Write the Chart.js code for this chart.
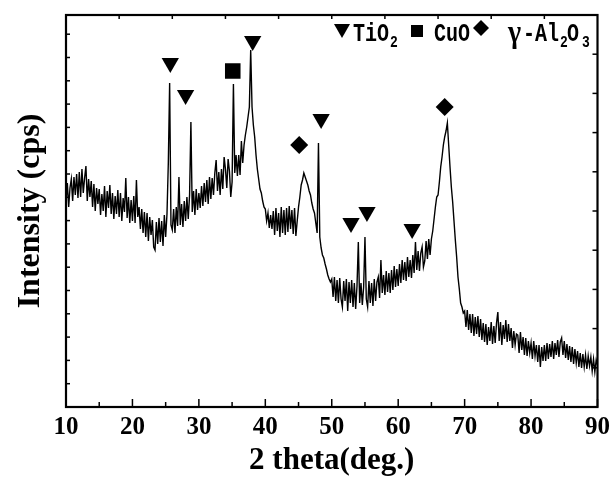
<!DOCTYPE html>
<html>
<head>
<meta charset="utf-8">
<script src="https://cdn.jsdelivr.net/npm/chart.js@4/dist/chart.umd.min.js"></script>
<style>
html, body { margin: 0; padding: 0; background: #fff; }
#wrap { width: 616px; height: 486px; }
</style>
</head>
<body>
<div id="wrap"><canvas id="xrd"></canvas></div>
<script>
// scan grid of the diffractometer
const scanStart = 10, scanStep = 0.2;

// intensity, one row per degree (5 steps of 0.2 deg)
const intensity = [
  205, 224, 200, 219, 228,   // 10
  206, 230, 212, 233, 209,   // 11
  235, 210, 238, 214, 229,   // 12
  241, 206, 228, 210, 226,   // 13
  200, 223, 196, 219, 203,   // 14
  218, 192, 213, 196, 221,   // 15
  190, 216, 199, 222, 193,   // 16
  214, 188, 211, 193, 217,   // 17
  190, 214, 186, 209, 195,   // 18
  229, 189, 210, 184, 207,   // 19
  186, 211, 184, 227, 190,   // 20
  200, 178, 198, 174, 195,   // 21
  170, 194, 166, 190, 172,   // 22
  187, 160, 157, 185, 163,   // 23
  189, 165, 186, 161, 192,   // 24
  170, 193, 244, 324, 182,   // 25
  177, 198, 174, 200, 181,   // 26
  230, 182, 203, 180, 206,   // 27
  186, 210, 188, 212, 285,   // 28
  195, 216, 192, 218, 197,   // 29
  214, 199, 221, 201, 224,   // 30
  205, 227, 203, 230, 208,   // 31
  229, 212, 234, 247, 216,   // 32
  235, 212, 238, 218, 250,   // 33
  238, 219, 248, 236, 210,   // 34
  225, 323, 234, 252, 231,   // 35
  252, 232, 266, 244, 262,   // 36
  272, 280, 290, 300, 357,   // 37
  300, 282, 270, 252, 238,   // 38
  228, 218, 214, 206, 200,   // 39
  198, 186, 194, 179, 192,   // 40
  178, 196, 172, 199, 176,   // 41
  194, 170, 200, 174, 197,   // 42
  172, 199, 175, 201, 178,   // 43
  197, 173, 199, 171, 186,   // 44
  200, 210, 222, 227, 234,   // 45
  230, 226, 222, 216, 212,   // 46
  204, 198, 194, 184, 174,   // 47
  264, 170, 159, 152, 149,   // 48
  143, 138, 132, 128, 125,   // 49
  128, 110, 130, 106, 127,   // 50
  104, 129, 108, 100, 126,   // 51
  106, 128, 96, 125, 104,    // 52
  127, 100, 124, 98, 121,    // 53
  165, 104, 124, 102, 120,   // 54
  170, 108, 100, 126, 104,   // 55
  124, 101, 128, 106, 125,   // 56
  130, 109, 147, 114, 132,   // 57
  112, 136, 115, 134, 114,   // 58
  137, 117, 141, 120, 138,   // 59
  121, 143, 124, 147, 127,   // 60
  145, 126, 150, 130, 147,   // 61
  129, 152, 134, 165, 137,   // 62
  156, 136, 154, 160, 140,   // 63
  146, 166, 148, 168, 152,   // 64
  168, 176, 188, 200, 210,   // 65
  212, 225, 240, 250, 262,   // 66
  270, 276, 284, 262, 240,   // 67
  220, 205, 186, 167, 150,   // 68
  130, 118, 104, 100, 94,    // 69
  96, 80, 97, 77, 93,        // 70
  74, 93, 71, 90, 73,        // 71
  91, 70, 88, 67, 84,        // 72
  65, 83, 62, 80, 66,        // 73
  85, 63, 81, 64, 84,        // 74
  95, 66, 85, 62, 82,        // 75
  68, 87, 65, 83, 66,        // 76
  79, 59, 76, 62, 73,        // 77
  72, 54, 75, 57, 70,        // 78
  52, 69, 51, 66, 54,        // 79
  64, 48, 66, 51, 62,        // 80
  45, 62, 40, 60, 46,        // 81
  62, 46, 64, 48, 63,        // 82
  50, 66, 48, 64, 52,        // 83
  67, 50, 65, 69, 52,        // 84
  66, 49, 63, 47, 61,        // 85
  45, 60, 43, 58, 44,        // 86
  56, 40, 54, 39, 53,        // 87
  40, 52, 38, 51, 41,        // 88
  50, 36, 48, 35, 47,        // 89
  42                         // 90
];

// phase markers above the peaks
const markerAngles  = [25.7, 28.0, 35.1, 38.1, 45.1, 48.4, 52.9, 55.3, 62.1, 67.0];
const markerHeights = [344, 312, 336, 366, 262, 288, 184, 195, 178, 300];
const markerPhases  = ['TiO2', 'TiO2', 'CuO', 'TiO2', 'Al2O3', 'TiO2', 'TiO2', 'TiO2', 'TiO2', 'Al2O3'];

// axis ticks
const xMajorTicks = [10, 20, 30, 40, 50, 60, 70, 80, 90];
const xMinorTicks = [15, 25, 35, 45, 55, 65, 75, 85];
const topTicks = [18, 26, 34, 42, 50, 58, 66, 74, 82];
const leftTicks = [23.3, 46.6, 69.9, 93.2, 116.5, 139.8, 163.1, 186.4, 209.7, 233, 256.3, 279.6, 302.9, 326.2, 349.5, 372.8];
const rightTicks = [39.2, 78.4, 117.6, 156.8, 196, 235.2, 274.4, 313.6, 352.8];

const scan = intensity.map((v, i) => ({ x: +(scanStart + i * scanStep).toFixed(1), y: v }));
const markers = markerAngles.map((a, i) => ({ x: a, y: markerHeights[i] }));
const styleOf = { TiO2: 'triangle', CuO: 'rect', Al2O3: 'rectRot' };
const radiusOf = { TiO2: 10, CuO: 11, Al2O3: 9 };

const frameTicks = {
  id: 'frameTicks',
  afterDraw(chart) {
    const { ctx, chartArea: a, scales: { x, y } } = chart;
    ctx.save();
    ctx.strokeStyle = '#000';
    ctx.lineWidth = 1.5;
    const seg = (x1, y1, x2, y2) => { ctx.beginPath(); ctx.moveTo(x1, y1); ctx.lineTo(x2, y2); ctx.stroke(); };
    xMajorTicks.forEach(v => { const p = x.getPixelForValue(v); seg(p, a.bottom, p, a.bottom - 8); });
    xMinorTicks.forEach(v => { const p = x.getPixelForValue(v); seg(p, a.bottom, p, a.bottom - 5); });
    topTicks.forEach(v => { const p = x.getPixelForValue(v); seg(p, a.top, p, a.top + 4); });
    leftTicks.forEach(v => { const p = y.getPixelForValue(v); seg(a.left, p, a.left + 4, p); });
    rightTicks.forEach(v => { const p = y.getPixelForValue(v); seg(a.right, p, a.right - 5, p); });
    ctx.lineWidth = 2.2;
    ctx.strokeRect(a.left, a.top, a.right - a.left, a.bottom - a.top);
    ctx.restore();
  }
};

const phaseLegend = {
  id: 'phaseLegend',
  afterDraw(chart) {
    const ctx = chart.ctx;
    ctx.save();
    ctx.fillStyle = '#000';
    // down triangle
    ctx.beginPath(); ctx.moveTo(334, 24); ctx.lineTo(350, 24); ctx.lineTo(342, 38); ctx.closePath(); ctx.fill();
    // square
    ctx.fillRect(411, 25, 12, 12);
    // diamond
    ctx.beginPath(); ctx.moveTo(481, 20); ctx.lineTo(489, 28); ctx.lineTo(481, 36); ctx.lineTo(473, 28); ctx.closePath(); ctx.fill();
    const txt = (s, px, py, font, sy) => {
      ctx.save();
      ctx.translate(px, py);
      ctx.scale(1, sy);
      ctx.font = font;
      ctx.textBaseline = 'alphabetic';
      ctx.fillText(s, 0, 0);
      ctx.restore();
    };
    const mono = '"Liberation Mono", monospace';
    txt('TiO', 353, 41, 'bold 20px ' + mono, 1.25);
    txt('2', 390, 47, 'bold 13px ' + mono, 1.25);
    txt('CuO', 434, 41, 'bold 20px ' + mono, 1.25);
    txt('\u03b3', 508, 42, 'bold 28px "Liberation Serif", serif', 1.1);
    txt('-Al', 523, 41, 'bold 20px ' + mono, 1.25);
    txt('2', 560, 47, 'bold 13px ' + mono, 1.25);
    txt('O', 567, 41, 'bold 20px ' + mono, 1.25);
    txt('3', 582, 47, 'bold 13px ' + mono, 1.25);
    ctx.restore();
  }
};

new Chart(document.getElementById('xrd'), {
  type: 'scatter',
  data: {
    datasets: [{
      data: scan,
      showLine: true,
      borderColor: '#000',
      borderWidth: 1.4,
      pointRadius: 0,
      tension: 0
    }, {
      data: markers,
      showLine: false,
      backgroundColor: '#000',
      borderColor: '#000',
      borderWidth: 0,
      pointStyle: markerPhases.map(p => styleOf[p]),
      pointRadius: markerPhases.map(p => radiusOf[p]),
      rotation: markerPhases.map(p => p === 'TiO2' ? 180 : 0)
    }]
  },
  options: {
    responsive: true,
    maintainAspectRatio: false,
    animation: false,
    events: [],
    layout: { padding: { top: 15, right: 17, left: 0, bottom: 0 } },
    plugins: { legend: { display: false }, tooltip: { enabled: false } },
    scales: {
      x: {
        type: 'linear',
        min: 10, max: 90,
        afterFit: s => { s.height = 79; },
        grid: { display: false, drawTicks: false },
        border: { display: false },
        ticks: {
          stepSize: 10,
          padding: 6,
          color: '#000',
          font: { family: '"Liberation Serif", serif', size: 25, weight: 'bold' }
        },
        title: {
          display: true,
          text: '2 theta(deg.)',
          color: '#000',
          padding: { top: 0, bottom: 6 },
          font: { family: '"Liberation Serif", serif', size: 31, weight: 'bold' }
        }
      },
      y: {
        min: 0, max: 392,
        afterFit: s => { s.width = 66; },
        grid: { display: false, drawTicks: false },
        border: { display: false },
        ticks: { display: false },
        title: {
          display: true,
          text: 'Intensity (cps)',
          color: '#000',
          padding: { top: 12, bottom: 0 },
          font: { family: '"Liberation Serif", serif', size: 32, weight: 'bold' }
        }
      }
    }
  },
  plugins: [frameTicks, phaseLegend]
});
</script>
</body>
</html>
